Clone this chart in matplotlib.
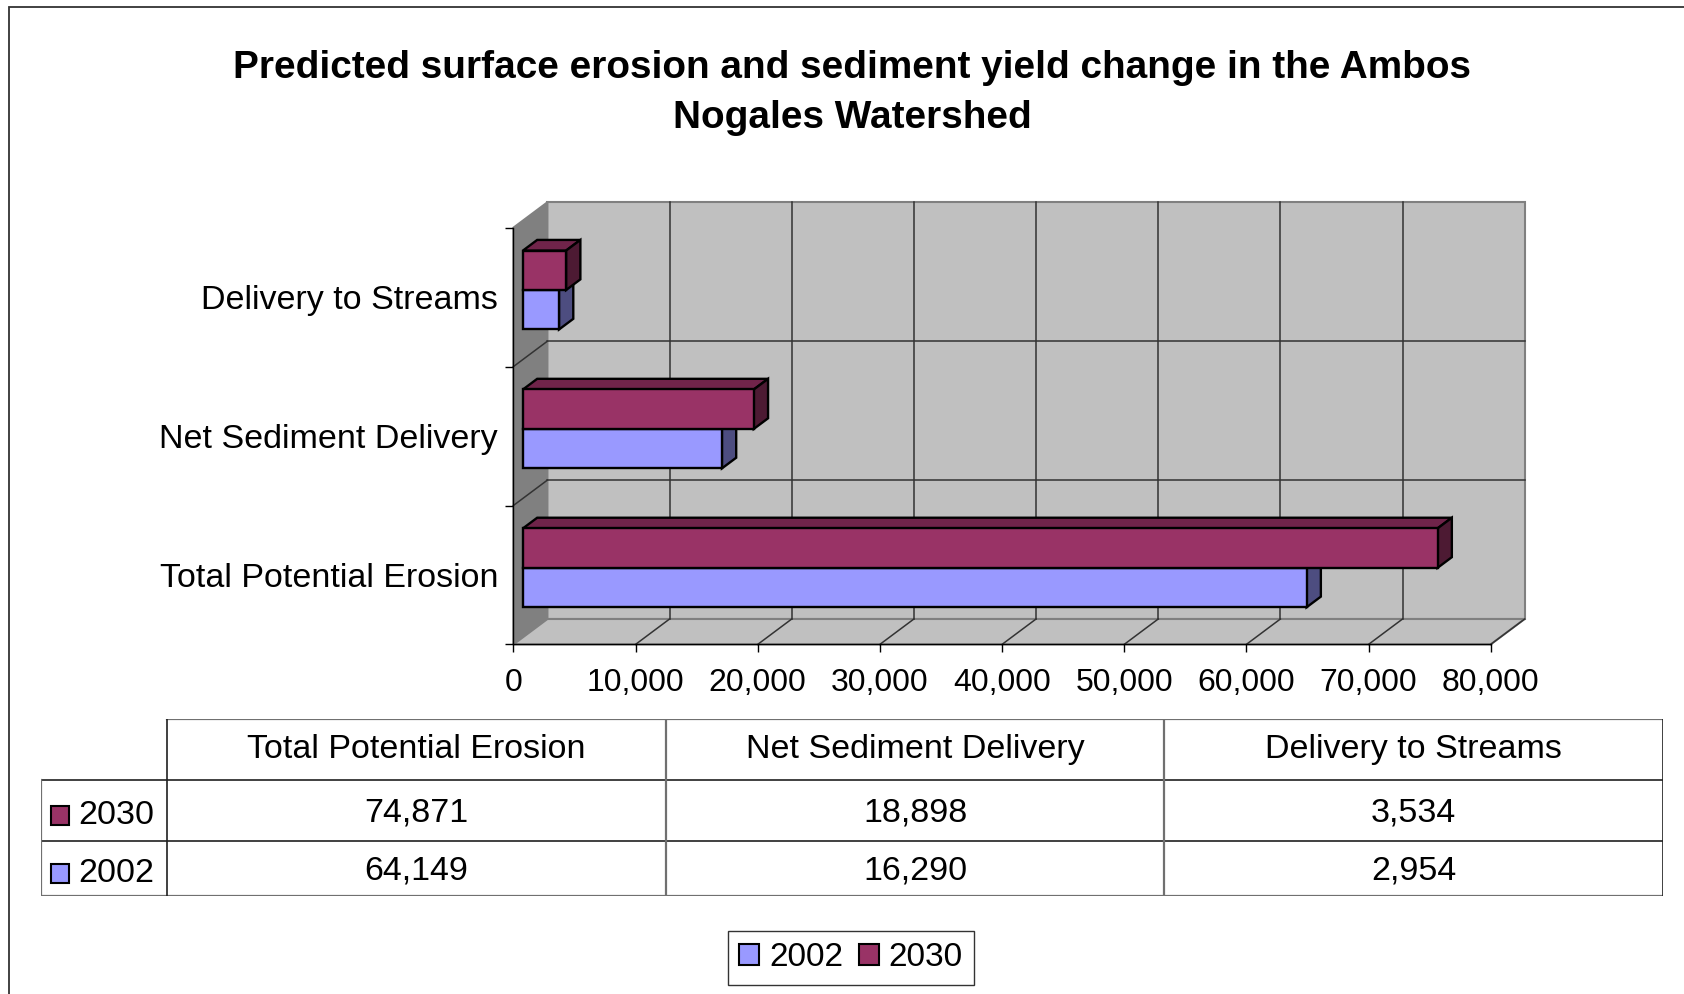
import matplotlib
matplotlib.use("Agg")
import matplotlib.pyplot as plt
from matplotlib.patches import Polygon, Rectangle, Patch
from matplotlib.ticker import FuncFormatter

plt.rcParams['font.family'] = ['Liberation Sans', 'DejaVu Sans']

#%% Data
categories = ['Total Potential Erosion', 'Net Sediment Delivery', 'Delivery to Streams']
series_names = ['2002', '2030']
values_2002 = [64149, 16290, 2954]
values_2030 = [74871, 18898, 3534]
x_max = 80000
x_step = 10000

title_lines = ['Predicted surface erosion and sediment yield change in the Ambos',
               'Nogales Watershed']

#%% Styles
col_2002 = ['#9999ff', '#7a7acc', '#4d4d80']   # front, top, side
col_2030 = ['#993366', '#70244a', '#4d1a33']
wall_c = '#c0c0c0'
side_wall_c = '#808080'
grid_c = '#333333'

W, H = 1684, 994
fig = plt.figure(figsize=(W / 100, H / 100), dpi=100)

def fx(px):
    return px / W

def fy(py):
    return 1 - py / H

# outer chart border (runs off the right and bottom of the picture)
fig.add_artist(Rectangle((fx(9), -0.5), 2, 1.5 - 7 / H, transform=fig.transFigure,
                         fill=False, ec='#333333', lw=1.3))

# title
fig.text(fx(852), fy(77.7), title_lines[0], ha='center', va='baseline',
         fontsize=27.9, fontweight='bold')
fig.text(fx(852), fy(127.5), title_lines[1], ha='center', va='baseline',
         fontsize=27.9, fontweight='bold')

#%% 3D-looking bar plot, axes = front plane of the box
left, right, top, bottom = 513.4, 1490.7, 227.7, 644.4
ax = fig.add_axes([fx(left), fy(bottom), (right - left) / W, (bottom - top) / H])
n = len(categories)
y0, y1 = -0.5, n - 0.5
ax.set_xlim(0, x_max)
ax.set_ylim(y0, y1)
ax.patch.set_visible(False)

# depth of the box, converted from pixels to data units
dx = 34.0 * x_max / (right - left)
dy = 25.4 * n / (bottom - top)

ticks = list(range(0, x_max + 1, x_step))
bounds = [y0 + i for i in range(n + 1)]

kw = dict(clip_on=False, zorder=0.5)
# back wall, side wall, floor
ax.add_patch(Polygon([(dx, y0 + dy), (x_max + dx, y0 + dy), (x_max + dx, y1 + dy), (dx, y1 + dy)],
                     fc=wall_c, ec='#808080', lw=1.5, **kw))
ax.add_patch(Polygon([(0, y0), (dx, y0 + dy), (dx, y1 + dy), (0, y1)],
                     fc=side_wall_c, ec='#808080', lw=1.5, **kw))
ax.add_patch(Polygon([(0, y0), (x_max, y0), (x_max + dx, y0 + dy), (dx, y0 + dy)],
                     fc=wall_c, ec='#808080', lw=1.5, **kw))

lkw = dict(color=grid_c, lw=1.1, clip_on=False, zorder=0.6)
for xv in ticks[1:-1]:
    ax.plot([xv + dx, xv + dx], [y0 + dy, y1 + dy], **lkw)
for xv in ticks[1:]:
    ax.plot([xv, xv + dx], [y0, y0 + dy], **lkw)
for yb in bounds[1:-1]:
    ax.plot([dx, x_max + dx], [yb + dy, yb + dy], **lkw)
    ax.plot([0, dx], [yb, yb + dy], **lkw)

# bars
f0, f1 = 0.28, 0.70
bar_h = 0.284

def draw_bar(y_lo, val, cols):
    xl = f0 * dx
    xr = val + f0 * dx
    yl = y_lo + f0 * dy
    yh = y_lo + bar_h + f0 * dy
    ddx = (f1 - f0) * dx
    ddy = (f1 - f0) * dy
    pk = dict(ec='black', lw=1.7, joinstyle='miter', clip_on=False, zorder=2)
    ax.add_patch(Polygon([(xl, yh), (xr, yh), (xr + ddx, yh + ddy), (xl + ddx, yh + ddy)],
                         fc=cols[1], **pk))
    ax.add_patch(Polygon([(xr, yl), (xr + ddx, yl + ddy), (xr + ddx, yh + ddy), (xr, yh)],
                         fc=cols[2], **pk))
    ax.add_patch(Rectangle((xl, yl), val, yh - yl, fc=cols[0], **pk))

for i in range(n):
    draw_bar(i - bar_h, values_2002[i], col_2002)
    draw_bar(i, values_2030[i], col_2030)

# axes, ticks
for s in ['top', 'right']:
    ax.spines[s].set_visible(False)
for s in ['left', 'bottom']:
    ax.spines[s].set_color('black')
    ax.spines[s].set_linewidth(1)
ax.set_xticks(ticks)
ax.xaxis.set_major_formatter(FuncFormatter(lambda v, p: f'{v:,.0f}'))
ax.tick_params(axis='x', length=5.8, width=1, pad=11, labelsize=23)
ax.set_yticks(bounds)
ax.set_yticklabels([])
ax.tick_params(axis='y', which='major', length=5.8, width=1)
ax.set_yticks(range(n), minor=True)
ax.set_yticklabels(categories, minor=True)
ax.tick_params(axis='y', which='minor', length=0, pad=11, labelsize=24.5)

#%% Data table (drawn by hand in its own axes, units = pixels of the layout)
t_left, t_right, t_top, t_bottom = 41, 1663, 719, 896
tax = fig.add_axes([fx(t_left), fy(t_bottom), (t_right - t_left) / W, (t_bottom - t_top) / H])
tax.axis('off')
label_w, col_w = 126, (t_right - t_left - 126) / n
row_h = [61, 61, 55]
tot_w = label_w + col_w * n
tot_h = sum(row_h)
tax.set_xlim(0, tot_w)
tax.set_ylim(tot_h, 0)

col_x = [label_w + j * col_w for j in range(n + 1)]
row_y = [sum(row_h[:k]) for k in range(len(row_h) + 1)]

dark = dict(color='#202020', lw=1.2, solid_capstyle='projecting')
grey = dict(color='#707070', lw=1.6, solid_capstyle='projecting')
tax.plot([label_w, tot_w], [0, 0], **grey)
tax.plot([0, tot_w], [row_y[1], row_y[1]], **dark)
tax.plot([0, tot_w], [row_y[2], row_y[2]], **dark)
tax.plot([0, tot_w], [tot_h, tot_h], **grey)
tax.plot([0, 0], [row_y[1], tot_h], **grey)
for j, xc in enumerate(col_x):
    tax.plot([xc, xc], [0, tot_h], **(dark if j in (0, n) else grey))

tfs = 24.5
for j, cat in enumerate(categories):
    tax.text(col_x[j] + col_w / 2, row_h[0] / 2, cat, ha='center', va='center', fontsize=tfs)

table_rows = [('2030', values_2030, col_2030[0]), ('2002', values_2002, col_2002[0])]
for i, (name, vals, c) in enumerate(table_rows, start=1):
    yc = row_y[i] + row_h[i] / 2
    tax.text(label_w - 12.6, yc + 5, name, ha='right', va='center', fontsize=tfs)
    tax.add_patch(Rectangle((10, yc - 4.5), 18, 19, fc=c, ec='black', lw=1.5, zorder=5))
    for j, v in enumerate(vals):
        tax.text(col_x[j] + col_w / 2, yc + 3, f'{v:,}', ha='center', va='center', fontsize=tfs)

#%% Legend
handles = [Patch(fc=col_2002[0], ec='black', lw=1.5), Patch(fc=col_2030[0], ec='black', lw=1.5)]
leg = fig.legend(handles, series_names, loc='center', bbox_to_anchor=(fx(851), fy(958)),
                 ncol=2, frameon=True, fancybox=False, edgecolor='black', fontsize=24,
                 handlelength=0.6, handleheight=0.58, handletextpad=0.29,
                 columnspacing=0.48, borderpad=0.35, borderaxespad=0)
leg.get_frame().set_linewidth(1)

fig.savefig('out.png', dpi=100)
